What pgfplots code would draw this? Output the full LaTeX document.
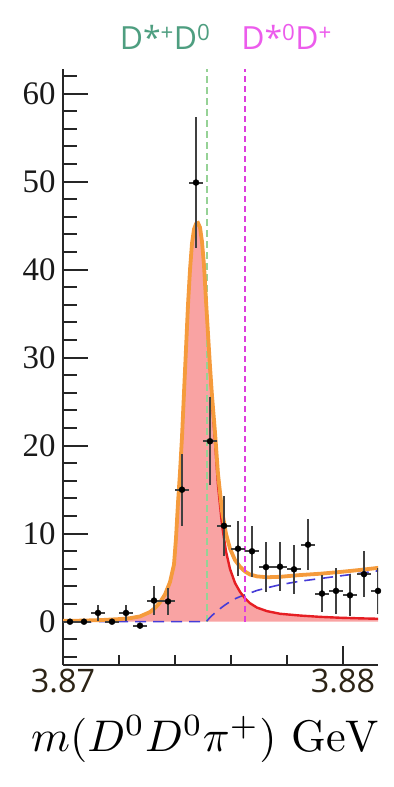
\documentclass[border=0pt]{standalone}
\usepackage{fontspec}
\usepackage{graphicx}
\usepackage{pgfplots}
\pgfplotsset{compat=1.18}
\usepackage{pgfplotstable}
\newfontfamily\osans{Open Sans}
\newfontfamily\tnr{Liberation Serif}
\definecolor{sigfill}{RGB}{249,163,163}
\definecolor{sigline}{RGB}{230,30,35}
\definecolor{totline}{RGB}{245,155,60}
\definecolor{bkgline}{RGB}{70,60,215}
\definecolor{thrgreen}{RGB}{150,210,150}
\definecolor{thrmag}{RGB}{222,60,222}
\definecolor{labgreen}{RGB}{78,158,128}
\definecolor{labmag}{RGB}{236,92,236}
\definecolor{tickbrown}{RGB}{45,36,22}

\pgfplotstableread{
x y
3.870000 0.10
3.870607 0.12
3.871321 0.18
3.872036 0.30
3.872393 0.40
3.872750 0.60
3.873107 1.10
3.873286 1.55
3.873464 2.20
3.873643 3.10
3.873821 4.50
3.873964 6.50
3.874036 9.5
3.874107 13.5
3.874179 17.0
3.874250 21.0
3.874321 26.0
3.874393 31.0
3.874464 36.0
3.874536 40.0
3.874607 43.0
3.874679 44.6
3.874750 45.2
3.874821 45.3
3.874893 44.8
3.874964 43.2
3.875036 40.5
3.875107 36.5
3.875179 32.5
3.875250 28.5
3.875321 25.0
3.875429 20.5
3.875536 15.5
3.875679 11.0
3.875821 8.0
3.875964 6.0
3.876143 4.4
3.876321 3.4
3.876500 2.65
3.876679 2.1
3.876929 1.6
3.877286 1.2
3.877750 0.9
3.878464 0.7
3.879179 0.55
3.879893 0.45
3.880607 0.38
3.881286 0.33
}\signal

\pgfplotstableread{
x y
3.870000 0
3.875107 0
3.875214 0.35
3.875321 0.70
3.875536 1.30
3.875786 1.90
3.876071 2.50
3.876321 2.85
3.876500 3.05
3.876929 3.55
3.877286 3.85
3.877750 4.20
3.878464 4.60
3.879179 4.90
3.879893 5.20
3.880607 5.50
3.881286 5.80
}\bkg

\pgfplotstableread{
x y
3.870000 0.10
3.870607 0.12
3.871321 0.18
3.872036 0.30
3.872393 0.40
3.872750 0.60
3.873107 1.10
3.873286 1.55
3.873464 2.20
3.873643 3.10
3.873821 4.50
3.873964 6.50
3.874036 9.5
3.874107 13.5
3.874179 17.0
3.874250 21.0
3.874321 26.0
3.874393 31.0
3.874464 36.0
3.874536 40.0
3.874607 43.0
3.874679 44.6
3.874750 45.2
3.874821 45.3
3.874893 44.8
3.874964 43.2
3.875036 40.5
3.875107 36.5
3.875179 32.7
3.875250 29.0
3.875321 25.7
3.875429 21.5
3.875536 16.8
3.875679 12.6
3.875821 10.0
3.875964 8.3
3.876143 7.0
3.876321 6.25
3.876500 5.7
3.876679 5.36
3.876929 5.15
3.877286 5.05
3.877750 5.10
3.878464 5.30
3.879179 5.45
3.879893 5.65
3.880607 5.88
3.881286 6.13
}\total

\pgfplotstableread{
x y ex ey
3.87025 0 0.00025 0
3.87075 0 0.00025 0
3.87125 1.0 0.00025 0.9
3.87175 0 0.00025 0
3.87225 1.0 0.00025 0.9
3.87275 -0.45 0.00025 0
3.87325 2.4 0.00025 1.6
3.87375 2.3 0.00025 1.5
3.87425 15.0 0.00025 4.1
3.87475 49.9 0.00025 7.4
3.87525 20.5 0.00025 5.0
3.87575 10.9 0.00025 3.4
3.87625 8.3 0.00025 3.1
3.87675 8.0 0.00025 2.9
3.87725 6.2 0.00025 2.8
3.87775 6.25 0.00025 2.8
3.87825 5.95 0.00025 2.8
3.87875 8.75 0.00025 2.9
3.87925 3.2 0.00025 2.1
3.87975 3.5 0.00025 2.6
3.88025 3.0 0.00025 2.4
3.88075 5.4 0.00025 2.6
3.88125 3.5 0.00025 2.6
}\datapts

\begin{document}
\begin{tikzpicture}
\useasboundingbox (0,0) rectangle (394bp,787bp);
\begin{axis}[
  at={(63bp,122bp)}, anchor=south west,
  scale only axis, width=315bp, height=596bp,
  xmin=3.87, xmax=3.88125, ymin=-4.92, ymax=62.8,
  axis x line*=bottom, axis y line*=left,
  axis line style={line width=2bp, color=black!85},
  /pgf/number format/assume math mode=true,
  xtick={3.87,3.88}, xticklabels={3.87,3.88},
  minor xtick={3.872,3.874,3.876,3.878},
  ytick={0,10,20,30,40,50,60},
  yticklabels={0,10,20,30,40,50,60},
  minor ytick={-4,-2,2,4,6,8,12,14,16,18,22,24,26,28,32,34,36,38,42,44,46,48,52,54,56,58,62},
  tick align=inside,
  major tick length=25bp, minor tick length=14bp,
  tick style={line width=2bp, color=black!85},
  x tick style={/pgfplots/major tick length=19bp, /pgfplots/minor tick length=10bp},
  xticklabel style={font=\osans\fontsize{32.5}{32.5}\selectfont, text=tickbrown, yshift=-1bp},
  yticklabel style={font=\tnr\fontsize{33}{33}\selectfont, text=black!90, xshift=-4bp},
  clip mode=individual,
]
\addplot[fill=sigfill, draw=none] table {\signal} \closedcycle;
\addplot[thrgreen, line width=1.8bp, dash pattern=on 7bp off 4bp] coordinates {(3.87513,0) (3.87513,62.8)};
\addplot[bkgline, line width=1.6bp, dash pattern=on 11bp off 7bp] table {\bkg};
\addplot[sigline, line width=2.4bp] table {\signal};
\addplot[totline, line width=3.8bp] table {\total};
\addplot[thrmag, line width=1.6bp, dash pattern=on 6bp off 4bp] coordinates {(3.8765,0) (3.8765,62.8)};
\addplot[black, only marks, mark=*, mark size=3bp,
  error bars/.cd, x dir=both, x explicit, y dir=both, y explicit,
  error mark=none, error bar style={line width=2bp, color=black!75}]
  table[x=x, y=y, x error=ex, y error=ey] {\datapts};
\node[anchor=base, text=labgreen, font=\osans\fontsize{32}{32}\selectfont] at (rel axis cs:0.324,1) [yshift=19.7bp] {D*\textsuperscript{+}D\textsuperscript{0}};
\node[anchor=base, text=labmag, font=\osans\fontsize{32}{32}\selectfont] at (rel axis cs:0.71,1) [yshift=19.7bp] {D*\textsuperscript{0}D\textsuperscript{+}};
\node[anchor=base] at (rel axis cs:0.451,0) [yshift=-86.7bp] {\scalebox{4.45}{\fontsize{10}{12}\selectfont$m(D^0D^0\pi^+)\ \mathrm{GeV}$}};
\end{axis}
\end{tikzpicture}
\end{document}
